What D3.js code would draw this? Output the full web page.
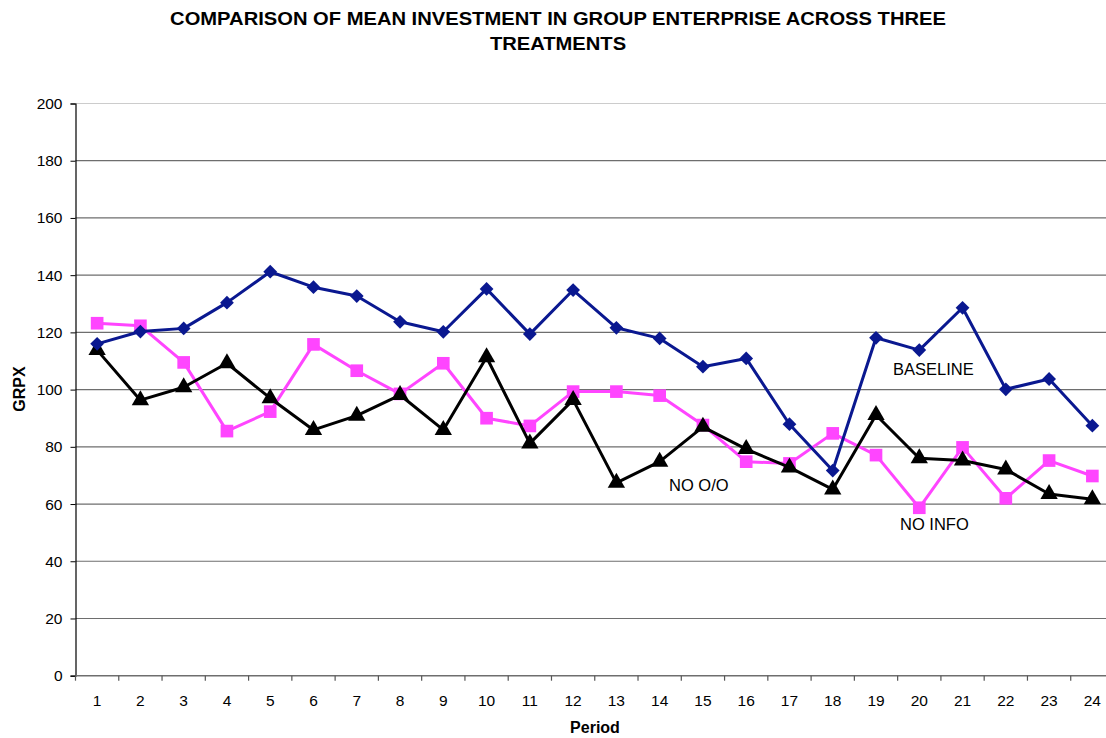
<!DOCTYPE html>
<html>
<head>
<meta charset="utf-8">
<script src="https://cdn.jsdelivr.net/npm/d3@7"></script>
<style>
  body { margin: 0; background: #fff; }
  svg { display: block; }
</style>
</head>
<body>
<svg id="chart"></svg>
<script>
// data
const periods = d3.range(1, 25)
const yTicks = [0, 20, 40, 60, 80, 100, 120, 140, 160, 180, 200]
const baseline = [116, 120.3, 121.4, 130.4, 141.2, 135.8, 132.7, 123.7, 120.2, 135.2, 119.4, 134.8,
  121.6, 117.9, 108, 110.9, 87.9, 71.7, 118.1, 113.8, 128.6, 100.1, 103.7, 87.4]
const noInfo = [123.2, 122.3, 109.5, 85.5, 92.3, 115.8, 106.6, 98.5, 109.2, 90, 87.3, 99.3,
  99.3, 97.9, 87.6, 74.8, 74.2, 84.7, 77.1, 58.7, 79.8, 62, 75.2, 69.8]
const noOO = [113.8, 96.3, 100.8, 109.2, 97, 85.9, 90.9, 98.1, 85.9, 111.3, 81.2, 96.4,
  67.4, 74.8, 87, 79.2, 72.8, 65.1, 91.1, 76, 75.2, 72.1, 63.5, 61.7]

const width = 1106, height = 738
const font = "Liberation Sans, Arial, sans-serif"
// the plot runs a little past the right edge in the source, so right margin is negative
const margin = {left: 75.5, right: -8, top: 103.5, bottom: 62.3}
const innerWidth = width - margin.left - margin.right
const innerHeight = height - margin.top - margin.bottom
const visibleWidth = width - margin.left

const svg = d3.select("#chart").attr("width", width).attr("height", height)
  .attr("font-family", font)

// title (slightly stretched horizontally, like the source)
const titleLines = ["COMPARISON OF MEAN INVESTMENT IN GROUP ENTERPRISE ACROSS THREE", "TREATMENTS"]
titleLines.forEach((t, i) => {
  svg.append("text")
    .attr("transform", `translate(558,${25 + i * 25}) scale(1.12,1)`)
    .attr("text-anchor", "middle")
    .attr("font-weight", "bold").attr("font-size", 18).attr("fill", "#000")
    .text(t)
})

const g = svg.append("g").attr("transform", `translate(${margin.left},${margin.top})`)

const xScale = d3.scaleBand().domain(periods).range([0, innerWidth])
const yScale = d3.scaleLinear().domain([0, 200]).range([innerHeight, 0])
const xPos = d => xScale(d) + xScale.bandwidth() / 2

// gridlines
g.selectAll(".grid").data(yTicks.filter(t => t > 0)).join("line")
  .attr("class", "grid")
  .attr("x1", 0).attr("x2", visibleWidth)
  .attr("y1", d => yScale(d)).attr("y2", d => yScale(d))
  .attr("stroke", d => d == 200 ? "#cccccc" : "#6e6e6e").attr("stroke-width", 1.2)

// y axis
const yAxis = g.append("g").call(d3.axisLeft(yScale).tickValues(yTicks).tickSize(5).tickPadding(8))
  .attr("font-size", 15.5).attr("font-family", font)
yAxis.select(".domain").attr("stroke", "#000").attr("stroke-width", 1.2)
yAxis.selectAll("text").attr("fill", "#000")

// x axis: ticks between categories
const xAxisG = g.append("g").attr("transform", `translate(0,${innerHeight})`)
xAxisG.append("line").attr("x1", 0).attr("x2", visibleWidth).attr("stroke", "#6e6e6e").attr("stroke-width", 1.5)
xAxisG.selectAll(".xt").data(periods).join("line").attr("class", "xt")
  .attr("x1", d => xScale(d)).attr("x2", d => xScale(d)).attr("y1", 0).attr("y2", 5)
  .attr("stroke", "#555").attr("stroke-width", 1.2)
xAxisG.selectAll(".xl").data(periods).join("text").attr("class", "xl")
  .attr("x", d => xPos(d)).attr("y", 30).attr("text-anchor", "middle")
  .attr("font-size", 15.5).attr("fill", "#000").text(d => d)

// axis titles
svg.append("text").attr("transform", "translate(25,389) rotate(-90)").attr("text-anchor", "middle")
  .attr("font-weight", "bold").attr("font-size", 16).text("GRPX")
svg.append("text").attr("x", 595).attr("y", 733).attr("text-anchor", "middle")
  .attr("font-weight", "bold").attr("font-size", 16).text("Period")

const series = [
  {name: "NO INFO", values: noInfo, color: "#ff45ff", symbol: d3.symbolSquare, size: 160, rot: 0},
  {name: "NO O/O", values: noOO, color: "#000000", symbol: d3.symbolTriangle, size: 130, rot: 0},
  {name: "BASELINE", values: baseline, color: "#0a1890", symbol: d3.symbolSquare, size: 95, rot: 45}
]

const lineGen = d3.line().x((d, i) => xPos(periods[i])).y(d => yScale(d))

series.forEach(s => {
  g.append("path").datum(s.values)
    .attr("d", lineGen).attr("fill", "none")
    .attr("stroke", s.color).attr("stroke-width", 3).attr("stroke-linejoin", "round")
  g.selectAll(null).data(s.values).join("path")
    .attr("d", d3.symbol().type(s.symbol).size(s.size))
    .attr("transform", (d, i) => `translate(${xPos(periods[i])},${yScale(d)}) rotate(${s.rot})`)
    .attr("fill", s.color)
})

// series labels
svg.append("text").attr("x", 893).attr("y", 375).attr("font-size", 16.5).text("BASELINE")
svg.append("text").attr("x", 669).attr("y", 491).attr("font-size", 16.5).text("NO O/O")
svg.append("text").attr("x", 900).attr("y", 530).attr("font-size", 16.5).text("NO INFO")
</script>
</body>
</html>
